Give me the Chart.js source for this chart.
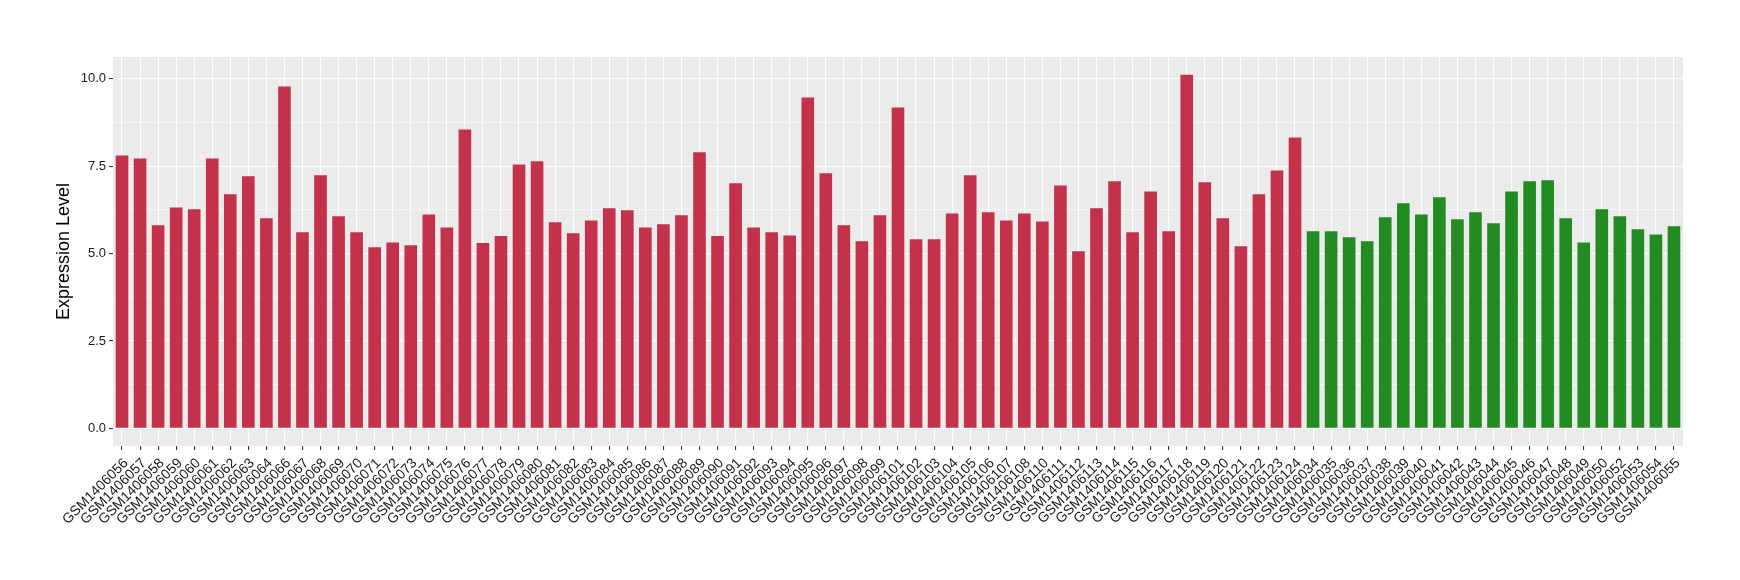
<!DOCTYPE html>
<html>
<head>
<meta charset="utf-8">
<script src="https://cdn.jsdelivr.net/npm/chart.js@4"></script>
<style>
  html, body { margin: 0; padding: 0; background: #fff; }
  #wrap { width: 1740px; height: 580px; }
</style>
</head>
<body>
<div id="wrap"><canvas id="grafico" width="1740" height="580"></canvas></div>
<script>
// amostras do grupo 1 (vermelho)
const amostrasVermelho = [
  'GSM1406056','GSM1406057','GSM1406058','GSM1406059','GSM1406060','GSM1406061','GSM1406062','GSM1406063','GSM1406064',
  'GSM1406066','GSM1406067','GSM1406068','GSM1406069','GSM1406070','GSM1406071','GSM1406072','GSM1406073','GSM1406074',
  'GSM1406075','GSM1406076','GSM1406077','GSM1406078','GSM1406079','GSM1406080','GSM1406081','GSM1406082','GSM1406083',
  'GSM1406084','GSM1406085','GSM1406086','GSM1406087','GSM1406088','GSM1406089','GSM1406090','GSM1406091','GSM1406092',
  'GSM1406093','GSM1406094','GSM1406095','GSM1406096','GSM1406097','GSM1406098','GSM1406099','GSM1406101','GSM1406102',
  'GSM1406103','GSM1406104','GSM1406105','GSM1406106','GSM1406107','GSM1406108','GSM1406110','GSM1406111','GSM1406112',
  'GSM1406113','GSM1406114','GSM1406115','GSM1406116','GSM1406117','GSM1406118','GSM1406119','GSM1406120','GSM1406121',
  'GSM1406122','GSM1406123','GSM1406124'
];
const valoresVermelho = [
  7.81, 7.72, 5.81, 6.32, 6.27, 7.72, 6.70, 7.21, 6.01,
  9.78, 5.61, 7.24, 6.07, 5.61, 5.18, 5.32, 5.24, 6.12,
  5.75, 8.55, 5.30, 5.50, 7.55, 7.64, 5.90, 5.58, 5.95,
  6.30, 6.24, 5.75, 5.84, 6.10, 7.90, 5.50, 7.01, 5.75,
  5.61, 5.52, 9.47, 7.30, 5.81, 5.35, 6.10, 9.18, 5.41,
  5.41, 6.15, 7.24, 6.18, 5.95, 6.15, 5.92, 6.95, 5.07,
  6.30, 7.07, 5.61, 6.78, 5.64, 10.12, 7.04, 6.01, 5.21,
  6.70, 7.38, 8.32
];

// amostras do grupo 2 (verde)
const amostrasVerde = [
  'GSM1406034','GSM1406035','GSM1406036','GSM1406037','GSM1406038','GSM1406039','GSM1406040','GSM1406041','GSM1406042',
  'GSM1406043','GSM1406044','GSM1406045','GSM1406046','GSM1406047','GSM1406048','GSM1406049','GSM1406050','GSM1406052',
  'GSM1406053','GSM1406054','GSM1406055'
];
const valoresVerde = [
  5.64, 5.64, 5.47, 5.35, 6.04, 6.44, 6.12, 6.61, 5.98,
  6.18, 5.87, 6.78, 7.07, 7.10, 6.01, 5.32, 6.27, 6.07,
  5.70, 5.55, 5.78
];

const ticksY = [0, 2.5, 5, 7.5, 10];
const tituloY = 'Expression Level';

const corVermelho = '#C3314A';
const corVerde = '#228B22';

const rotulos = amostrasVermelho.concat(amostrasVerde);
const valores = valoresVermelho.concat(valoresVerde);
const cores = rotulos.map((r, i) => i < amostrasVermelho.length ? corVermelho : corVerde);

// linhas menores entre as principais
const ticksMenores = [];
for (let i = 0; i < ticksY.length - 1; i++) ticksMenores.push((ticksY[i] + ticksY[i + 1]) / 2);
const todosTicks = ticksY.concat(ticksMenores).sort((a, b) => a - b);

const maxValor = Math.max(...valores);
const expansao = maxValor * 0.05;

// fundo cinza do painel
const fundoPainel = {
  id: 'fundoPainel',
  beforeDraw(chart) {
    const { ctx, chartArea } = chart;
    ctx.save();
    ctx.fillStyle = '#EBEBEB';
    ctx.fillRect(chartArea.left, chartArea.top, chartArea.right - chartArea.left, chartArea.bottom - chartArea.top);
    ctx.restore();
  }
};

const ehPrincipal = v => ticksY.some(t => Math.abs(t - v) < 1e-6);

new Chart(document.getElementById('grafico'), {
  type: 'bar',
  data: {
    labels: rotulos,
    datasets: [{
      data: valores,
      backgroundColor: cores,
      borderWidth: 0,
      barPercentage: 0.7,
      categoryPercentage: 1.0
    }]
  },
  options: {
    responsive: false,
    animation: false,
    layout: { padding: { top: 57, right: 57, bottom: 0, left: 0 } },
    plugins: {
      legend: { display: false },
      tooltip: { enabled: false }
    },
    scales: {
      x: {
        offset: true,
        border: { display: false },
        grid: {
          offset: false,
          color: '#FFFFFF',
          lineWidth: 1.1,
          tickColor: '#333333',
          tickLength: 4,
          drawTicks: true
        },
        ticks: {
          autoSkip: false,
          minRotation: 45,
          maxRotation: 45,
          padding: 5,
          labelOffset: 4,
          color: '#1A1A1A',
          font: { family: '"Liberation Sans", Arial, sans-serif', size: 14 }
        },
        afterFit(scale) { scale.height = 134; }
      },
      y: {
        min: -expansao,
        max: maxValor + expansao,
        border: { display: false },
        afterBuildTicks(scale) {
          scale.ticks = todosTicks.map(v => ({ value: v }));
        },
        grid: {
          color: '#FFFFFF',
          lineWidth: ctx => ehPrincipal(ctx.tick.value) ? 1.1 : 0.55,
          tickColor: ctx => ehPrincipal(ctx.tick.value) ? '#333333' : 'rgba(0,0,0,0)',
          tickLength: 4,
          drawTicks: true
        },
        ticks: {
          padding: 3,
          color: '#1A1A1A',
          font: { family: '"Liberation Sans", Arial, sans-serif', size: 13 },
          callback: v => ehPrincipal(v) ? v.toFixed(1) : ''
        },
        title: {
          display: true,
          text: tituloY,
          color: '#000000',
          font: { family: '"Liberation Sans", Arial, sans-serif', size: 18 },
          padding: { top: 53, bottom: 0 }
        },
        afterFit(scale) { scale.width = 113; }
      }
    }
  },
  plugins: [fundoPainel]
});
</script>
</body>
</html>
